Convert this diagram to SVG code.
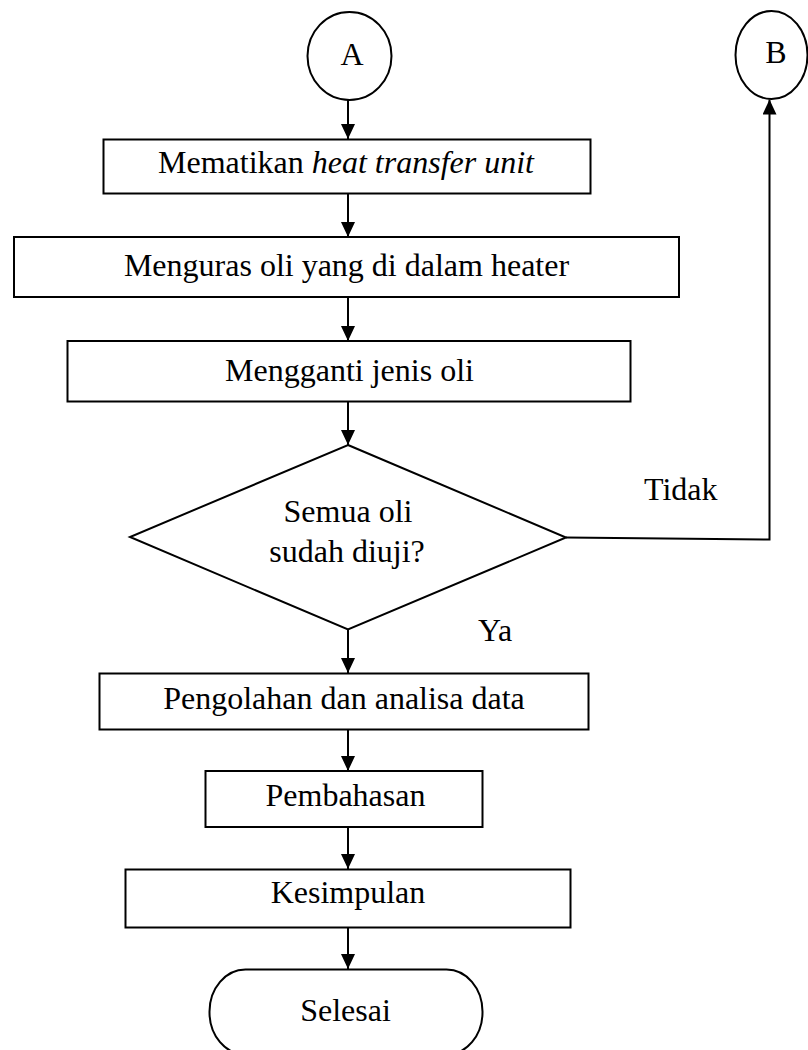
<svg xmlns="http://www.w3.org/2000/svg" width="808" height="1050" viewBox="0 0 808 1050">
<style>
.s{fill:#fff;stroke:#000;stroke-width:2}
.t{font-family:"Liberation Serif","Times New Roman",serif;font-size:32px;fill:#000;text-anchor:middle}
.l{font-family:"Liberation Serif","Times New Roman",serif;font-size:32px;fill:#000}
.c{fill:none;stroke:#000;stroke-width:2}
</style>
<defs>
<marker id="ah" markerUnits="userSpaceOnUse" markerWidth="15" markerHeight="14" refX="15" refY="7" orient="auto">
<path d="M0,0 L15,7 L0,14 z" fill="#000"/>
</marker>
</defs>
<rect width="808" height="1050" fill="#fff"/>
<g id="connectors">
<line class="c" x1="348" y1="100" x2="348" y2="139" marker-end="url(#ah)"/>
<line class="c" x1="348" y1="193" x2="348" y2="237" marker-end="url(#ah)"/>
<line class="c" x1="348" y1="297" x2="348" y2="341" marker-end="url(#ah)"/>
<line class="c" x1="348" y1="401" x2="348" y2="445" marker-end="url(#ah)"/>
<line class="c" x1="348" y1="629" x2="348" y2="673" marker-end="url(#ah)"/>
<line class="c" x1="348" y1="729" x2="348" y2="771" marker-end="url(#ah)"/>
<line class="c" x1="348" y1="827" x2="348" y2="869" marker-end="url(#ah)"/>
<line class="c" x1="348" y1="927" x2="348" y2="969" marker-end="url(#ah)"/>
<polyline class="c" points="566,537.5 769.5,539.5 769.5,99.5" marker-end="url(#ah)"/>
<text class="l" x="644" y="500">Tidak</text>
<text class="l" x="478" y="641">Ya</text>
</g>
<g id="nodeA">
<ellipse class="s" cx="349.5" cy="56" rx="42" ry="44"/>
<text class="t" x="352" y="65">A</text>
</g>
<g id="nodeB">
<ellipse class="s" cx="771.5" cy="55" rx="36" ry="44"/>
<text class="t" x="776" y="63">B</text>
</g>
<g id="box1">
<rect class="s" x="103.5" y="139.5" width="487" height="54"/>
<text class="t" x="346" y="173">Mematikan <tspan font-style="italic">heat transfer unit</tspan></text>
</g>
<g id="box2">
<rect class="s" x="14" y="237" width="665" height="60"/>
<text class="t" x="346.5" y="276">Menguras oli yang di dalam heater</text>
</g>
<g id="box3">
<rect class="s" x="67.5" y="341" width="563" height="60.5"/>
<text class="t" x="349.5" y="381">Mengganti jenis oli</text>
</g>
<g id="decision">
<polygon class="s" points="348,445 566,537.5 348,629.5 130,537"/>
<text class="t" x="348" y="521.5">Semua oli</text>
<text class="t" x="347" y="561.5">sudah diuji?</text>
</g>
<g id="box4">
<rect class="s" x="99.5" y="673.5" width="489" height="56"/>
<text class="t" x="344" y="708.5">Pengolahan dan analisa data</text>
</g>
<g id="box5">
<rect class="s" x="205.5" y="771" width="277" height="56"/>
<text class="t" x="345.5" y="806">Pembahasan</text>
</g>
<g id="box6">
<rect class="s" x="125.5" y="869.5" width="445" height="58"/>
<text class="t" x="348" y="903">Kesimpulan</text>
</g>
<g id="end">
<rect class="s" x="209.5" y="969.5" width="273" height="85" rx="36" ry="42"/>
<text class="t" x="345.5" y="1021">Selesai</text>
</g>
</svg>
